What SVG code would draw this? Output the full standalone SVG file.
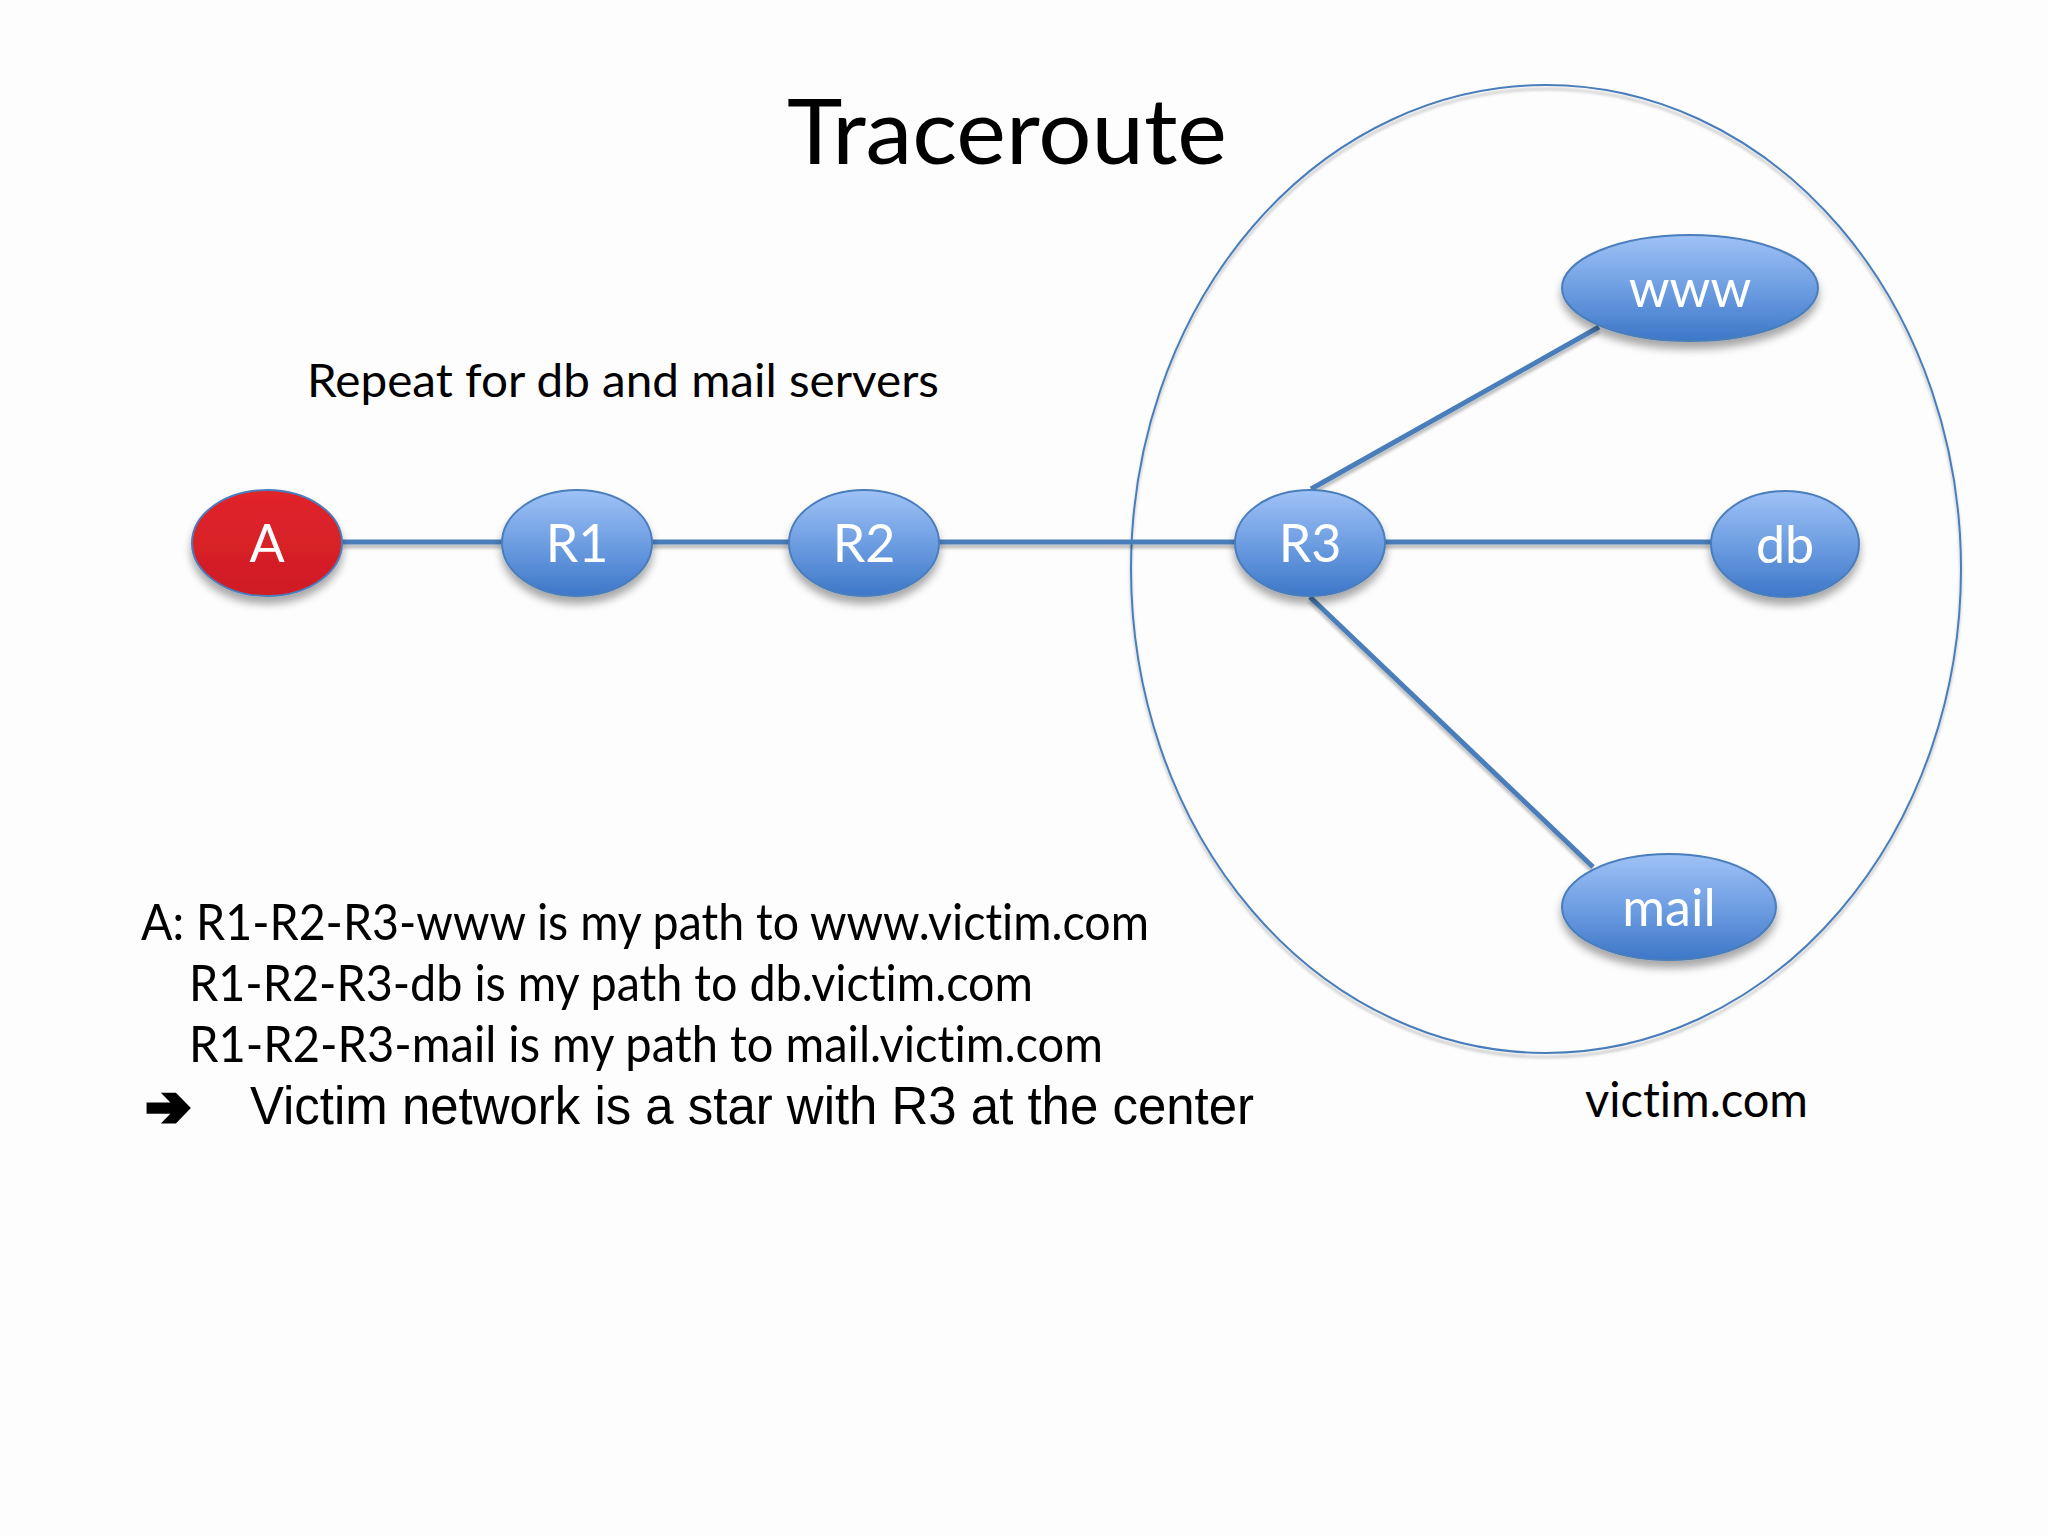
<svg xmlns="http://www.w3.org/2000/svg" width="2048" height="1536" viewBox="0 0 2048 1536">
<defs>
<linearGradient id="blueG" x1="0" y1="0" x2="0" y2="1">
<stop offset="0" stop-color="#9fc2f6"/>
<stop offset="0.5" stop-color="#6e9ee2"/>
<stop offset="1" stop-color="#3d77c8"/>
</linearGradient>
<linearGradient id="redG" x1="0" y1="0" x2="0" y2="1">
<stop offset="0" stop-color="#e1252c"/>
<stop offset="1" stop-color="#cf1c24"/>
</linearGradient>
<filter id="shadow" x="-30%" y="-30%" width="160%" height="170%">
<feGaussianBlur in="SourceAlpha" stdDeviation="4"/>
<feOffset dx="0" dy="7" result="b"/>
<feComponentTransfer><feFuncA type="linear" slope="0.35"/></feComponentTransfer>
<feMerge><feMergeNode/><feMergeNode in="SourceGraphic"/></feMerge>
</filter>
<filter id="lshadow" x="-10%" y="-10%" width="120%" height="120%">
<feGaussianBlur in="SourceAlpha" stdDeviation="1.5"/>
<feOffset dx="0" dy="4" result="b"/>
<feComponentTransfer><feFuncA type="linear" slope="0.25"/></feComponentTransfer>
<feMerge><feMergeNode/><feMergeNode in="SourceGraphic"/></feMerge>
</filter>
</defs>
<style>
text{font-variant-ligatures:none;font-feature-settings:"liga" 0,"clig" 0,"dlig" 0}
.node{stroke:#4a7ebb;stroke-width:2;filter:url(#shadow)}
.blue{fill:url(#blueG)}
.red{fill:url(#redG)}
.lbl{font-family:Lato,"Open Sans",sans-serif;font-size:52px;fill:#ffffff;text-anchor:middle}
.conn line{stroke:#4a7ebb;stroke-width:5}
.txt{font-family:Lato,"Open Sans",sans-serif;fill:#000000}
.arial{font-family:"Liberation Sans",Arial,sans-serif;fill:#000000}
</style>
<rect x="0" y="0" width="2048" height="1536" fill="#fdfdfd"/>
<text class="txt" x="787" y="164" font-size="92" textLength="440" lengthAdjust="spacingAndGlyphs">Traceroute</text>
<g id="victim-network">
<ellipse cx="1546" cy="569" rx="415" ry="484" fill="none" stroke="#4a7ebb" stroke-width="2" filter="url(#lshadow)"/>
<text class="txt" x="1585" y="1117" font-size="48" textLength="223" lengthAdjust="spacingAndGlyphs">victim.com</text>
</g>
<g id="connectors" class="conn" filter="url(#lshadow)">
<line x1="342" y1="542" x2="502" y2="542"/>
<line x1="652" y1="542" x2="789" y2="542"/>
<line x1="939" y1="542" x2="1235" y2="542"/>
<line x1="1384" y1="542" x2="1711" y2="542"/>
<line x1="1311" y1="489" x2="1599" y2="327"/>
<line x1="1310" y1="597" x2="1593" y2="867"/>
</g>
<g id="node-A"><ellipse class="node red" cx="267" cy="543" rx="75" ry="53"/><text class="lbl" x="267" y="562">A</text></g>
<g id="node-R1"><ellipse class="node blue" cx="577" cy="543" rx="75" ry="53"/><text class="lbl" x="577" y="562">R1</text></g>
<g id="node-R2"><ellipse class="node blue" cx="864" cy="543" rx="75" ry="53"/><text class="lbl" x="864" y="562">R2</text></g>
<g id="node-R3"><ellipse class="node blue" cx="1310" cy="543" rx="75" ry="53"/><text class="lbl" x="1310" y="562">R3</text></g>
<g id="node-www"><ellipse class="node blue" cx="1690" cy="288" rx="128" ry="53"/><text class="lbl" x="1690" y="307">www</text></g>
<g id="node-db"><ellipse class="node blue" cx="1785" cy="544" rx="74" ry="53"/><text class="lbl" x="1785" y="563">db</text></g>
<g id="node-mail"><ellipse class="node blue" cx="1669" cy="907" rx="107" ry="53"/><text class="lbl" x="1669" y="926">mail</text></g>
<g id="notes">
<text class="txt" x="307" y="397" font-size="47" textLength="632" lengthAdjust="spacingAndGlyphs">Repeat for db and mail servers</text>
<text class="txt" x="141" y="940" font-size="50" textLength="1008" lengthAdjust="spacingAndGlyphs">A: R1-R2-R3-www is my path to www.victim.com</text>
<text class="txt" x="189" y="1001" font-size="50" textLength="844" lengthAdjust="spacingAndGlyphs">R1-R2-R3-db is my path to db.victim.com</text>
<text class="txt" x="189" y="1062" font-size="50" textLength="914" lengthAdjust="spacingAndGlyphs">R1-R2-R3-mail is my path to mail.victim.com</text>
<text x="146" y="1125" font-family="'DejaVu Sans',sans-serif" font-weight="bold" font-size="54" textLength="44" lengthAdjust="spacingAndGlyphs" fill="#000000" stroke="#000000" stroke-width="5" stroke-linejoin="miter">➔</text>
<text class="arial" x="250" y="1124" font-size="53" textLength="1004" lengthAdjust="spacingAndGlyphs">Victim network is a star with R3 at the center</text>
</g>
</svg>
